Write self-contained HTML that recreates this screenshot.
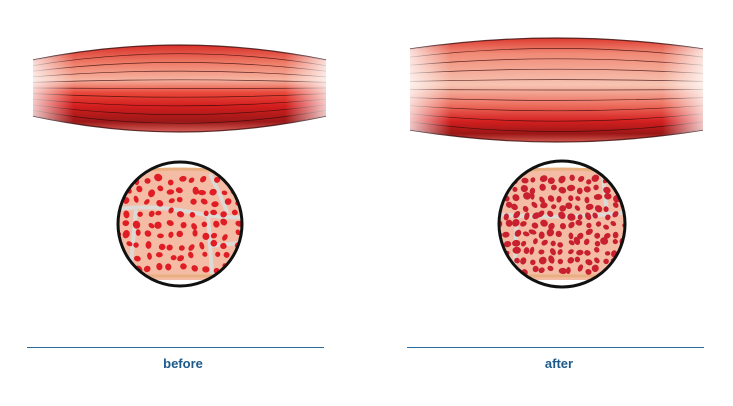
<!DOCTYPE html>
<html><head><style>
html,body{margin:0;padding:0;background:#fff;}
body{width:733px;height:406px;overflow:hidden;position:relative;font-family:"Liberation Sans",sans-serif;}
.lbl{position:absolute;top:356px;font-size:13px;font-weight:bold;color:#1d5a8c;text-align:center;width:120px;}
.ln{position:absolute;top:347px;height:1px;background:#2a6a9a;}
</style></head><body>
<svg id="s" width="733" height="406" style="position:absolute;left:0;top:0">
<defs>
<linearGradient id="gb" x1="0" y1="0" x2="0" y2="1">
<stop offset="0" stop-color="#d8302a"/><stop offset="0.2" stop-color="#ee7a66"/>
<stop offset="0.4" stop-color="#f6b5a2"/><stop offset="0.55" stop-color="#e8483a"/>
<stop offset="0.7" stop-color="#d41e1e"/><stop offset="0.88" stop-color="#9c1818"/>
<stop offset="1" stop-color="#d8605a"/></linearGradient>
<linearGradient id="ga" x1="0" y1="0" x2="0" y2="1">
<stop offset="0" stop-color="#dd3a30"/><stop offset="0.15" stop-color="#f08a76"/>
<stop offset="0.45" stop-color="#f7c4b2"/><stop offset="0.65" stop-color="#ec6c5c"/>
<stop offset="0.8" stop-color="#d42020"/><stop offset="0.92" stop-color="#9a1616"/>
<stop offset="1" stop-color="#d45a50"/></linearGradient>
<linearGradient id="fade" x1="0" y1="0" x2="1" y2="0">
<stop offset="0" stop-color="#fff" stop-opacity="0.75"/><stop offset="0.14" stop-color="#fff" stop-opacity="0"/>
<stop offset="0.86" stop-color="#fff" stop-opacity="0"/><stop offset="1" stop-color="#fff" stop-opacity="0.75"/></linearGradient>
<clipPath id="c1"><circle cx="180" cy="224" r="62"/></clipPath>
<clipPath id="c2"><circle cx="562" cy="224" r="63"/></clipPath>
</defs>
<g id="m"></g>
<g clip-path="url(#c1)"><rect x="110" y="155" width="140" height="140" fill="#fff"/><g id="d1"></g></g>
<circle cx="180" cy="224" r="62" fill="none" stroke="#111" stroke-width="3"/>
<g clip-path="url(#c2)"><rect x="490" y="155" width="140" height="140" fill="#fff"/><g id="d2"></g></g>
<circle cx="562" cy="224" r="63" fill="none" stroke="#111" stroke-width="3"/>
</svg>
<div class="ln" style="left:27px;width:297px"></div>
<div class="ln" style="left:407px;width:297px"></div>
<div class="lbl" style="left:123px">before</div>
<div class="lbl" style="left:499px">after</div>
<script>
var NS="http://www.w3.org/2000/svg";
function el(p,t,a){var e=document.createElementNS(NS,t);for(var k in a)e.setAttribute(k,a[k]);p.appendChild(e);return e;}
var m=document.getElementById('m');
function muscle(x0,x1,te,tc,be,bc,g){
 var mx=(x0+x1)/2;
 var d=`M${x0},${te} Q${mx},${tc} ${x1},${te} L${x1},${be} Q${mx},${bc} ${x0},${be}Z`;
 el(m,'path',{d:d,fill:`url(#${g})`});
 for(var i=0;i<=10;i++){var t=i/10;var e=te+(be-te)*t,c=tc+(bc-tc)*t;
  el(m,'path',{d:`M${x0},${e} Q${mx},${c} ${x1},${e}`,fill:'none',stroke:'#3a0a0a','stroke-width':(i==0||i==10)?1.2:0.7,'stroke-opacity':0.8});}
 el(m,'path',{d:d,fill:'url(#fade)'});
}
muscle(33,326,60,30,116,148,'gb');
muscle(410,703,49,27,130,154,'ga');
var seed=7;function r(){seed=(seed*9301+49297)%233280;return seed/233280;}
function cross(g,cx,cy,step,rad,col,dense){
 var G=document.getElementById(g);
 el(G,'rect',{x:cx-70,y:cy-56,width:140,height:112,fill:'#f4bca4'});
 el(G,'path',{d:`M${cx-70},${cy-50} Q${cx},${cy-60} ${cx+70},${cy-50}`,stroke:'#e8b080',fill:'none','stroke-width':3});
 el(G,'path',{d:`M${cx-70},${cy+52} L${cx+70},${cy+52}`,stroke:'#e8b080',fill:'none','stroke-width':3});
 var lines=[`M${cx-70},${cy-14} Q${cx-30},${cy-20} ${cx+10},${cy-12} T${cx+70},${cy-8}`,
 `M${cx+30},${cy-50} Q${cx+40},${cy-30} ${cx+48},${cy-10}`,`M${cx+28},${cy-10} L${cx+32},${cy+50}`,`M${cx+30},${cy+22} L${cx+70},${cy+18}`,`M${cx-44},${cy-14} L${cx-50},${cy+50}`];
 if(dense)lines=[`M${cx-70},${cy-10} Q${cx},${cy-4} ${cx+70},${cy-12}`,`M${cx+40},${cy-56} L${cx+45},${cy-10}`,`M${cx-45},${cy-6} L${cx-48},${cy+52}`];
 lines.forEach(d=>el(G,'path',{d:d,stroke:'#dcdad6',fill:'none','stroke-width':4}));
 for(var y=cy-44;y<cy+50;y+=step){for(var x=cx-64;x<cx+66;x+=step){
  var px=x+(r()-0.5)*step*0.5,py=y+(r()-0.5)*step*0.5;
  el(G,'ellipse',{cx:px,cy:py,rx:rad*(0.75+r()*0.5),ry:rad*(0.65+r()*0.45),fill:col,transform:`rotate(${r()*180} ${px} ${py})`});}}
}
cross('d1',180,224,11,3.4,'#e01c24',false);
cross('d2',562,224,9,3.4,'#c8202e',true);
</script>
</body></html>
